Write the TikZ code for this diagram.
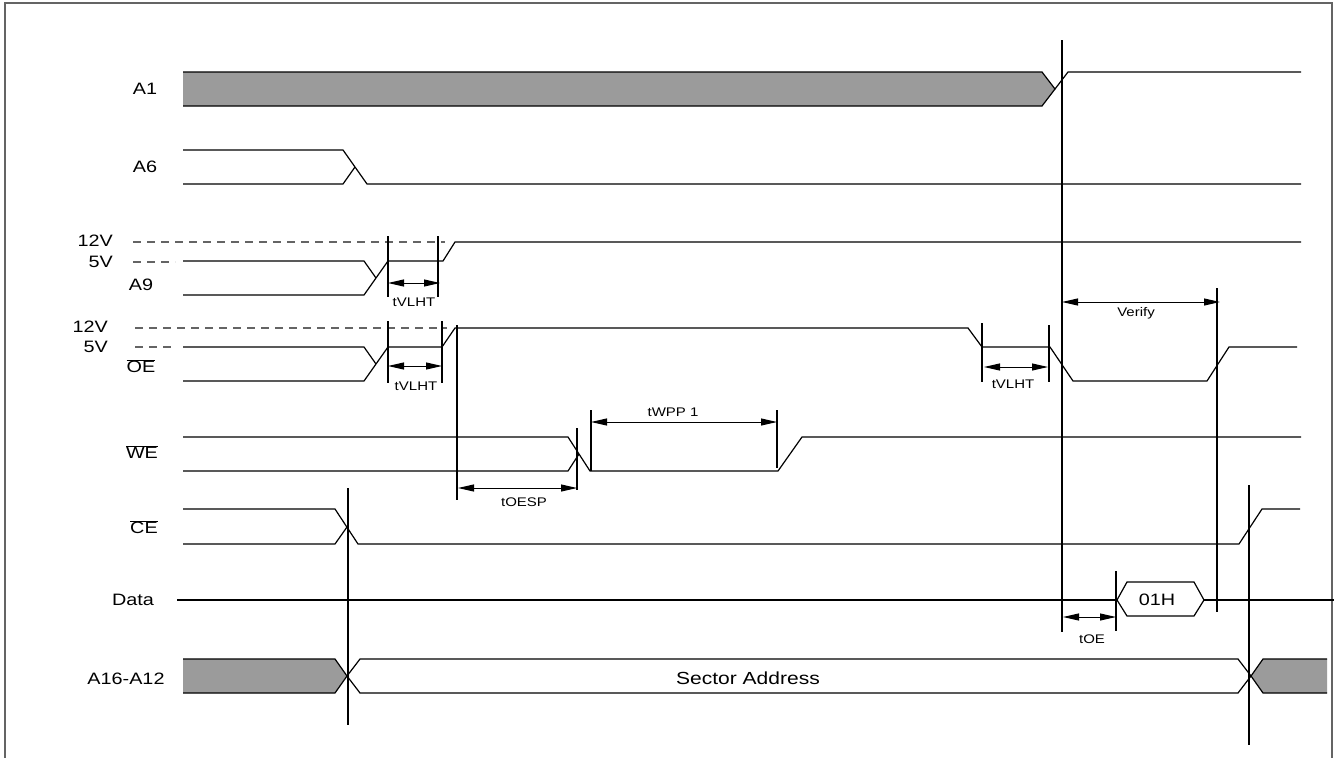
\documentclass[tikz,border=0pt]{standalone}
\usepackage{fontspec}
\setmainfont{Liberation Sans}[FakeStretch=1.2]
\usetikzlibrary{arrows.meta}
\definecolor{busgray}{RGB}{155,155,155}
\definecolor{framegray}{RGB}{100,100,100}
\tikzset{
  sig/.style={draw=black,line width=1.2pt,line join=miter},
  bus/.style={sig,fill=busgray},
  tickline/.style={draw=black,line width=1.1pt},
  lvl/.style={draw=framegray,line width=1.1pt,dash pattern=on 8pt off 6pt},
  dimarrow/.style={draw=black,line width=1pt,{Triangle[length=16pt,width=7pt]}-{Triangle[length=16pt,width=7pt]}},
  lab/.style={font=\fontsize{16.5}{18}\selectfont,inner sep=0pt},
  smalllab/.style={font=\fontsize{12.5}{14}\selectfont,inner sep=0pt},
}
\begin{document}
\begin{tikzpicture}[x=1pt,y=-1pt]
\useasboundingbox (0,0) rectangle (1334,758);
% frame
\draw[framegray,line width=1.8pt] (5,758) -- (5,3) -- (1332,3) -- (1332,758);

% labels
\node[lab] (lA1) at (145,89) {A1};
\node[lab] (lA6) at (145,167) {A6};
\node[lab,anchor=east] (l12a) at (113,241) {12V};
\node[lab,anchor=east] (l5a) at (113,262) {5V};
\node[lab] (lA9) at (141,285) {A9};
\node[lab,anchor=east] (l12b) at (108,327) {12V};
\node[lab,anchor=east] (l5b) at (108,347) {5V};
\node[lab] (lOE) at (141,366) {$\overline{\hbox{OE}}$};
\node[lab] (lWE) at (142,452) {$\overline{\hbox{WE}}$};
\node[lab] (lCE) at (144,527) {$\overline{\hbox{CE}}$};
\node[lab] (lData) at (133,600) {Data};
\node[lab] (lAddr) at (126,679) {A16-A12};

% A1
\path[fill=busgray] (183,72) -- (1042,72) -- (1055,89) -- (1042,106) -- (183,106) -- cycle;
\draw[sig] (183,72) -- (1042,72) -- (1055,89) -- (1042,106) -- (183,106);
\draw[sig] (1055,89) -- (1068,72) -- (1301,72);

% A6
\draw[sig] (183,150) -- (343,150) -- (367,184) -- (1301,184);
\draw[sig] (183,184) -- (343,184) -- (355,167);

% A9
\draw[lvl] (133,242) -- (445,242);
\draw[lvl] (133,262) -- (175,262);
\draw[sig] (183,261) -- (364,261) -- (376,278);
\draw[sig] (183,295) -- (364,295) -- (388,261) -- (443,261) -- (455,242) -- (1301,242);
\coordinate (m1t) at (388,236); \coordinate (m1b) at (388,297);
\coordinate (m2t) at (438,236); \coordinate (m2b) at (438,297);
\draw[tickline] (m1t) -- (m1b);
\draw[tickline] (m2t) -- (m2b);
\coordinate (a1l) at (388,283); \coordinate (a1r) at (440,283);
\draw[dimarrow] (a1l) -- (a1r);
\node[smalllab] (t1) at (414,302) {tVLHT};

% OE
\draw[lvl] (135,328) -- (447,328);
\draw[lvl] (135,347) -- (175,347);
\draw[sig] (183,347) -- (364,347) -- (376,364);
\draw[sig] (183,381) -- (364,381) -- (388,347) -- (442,347) -- (455,328) -- (968,328) -- (982,347) -- (1050,347) -- (1073,381) -- (1207,381) -- (1229,347) -- (1297,347);
\coordinate (m3t) at (388,321); \coordinate (m3b) at (388,383);
\coordinate (m4t) at (442,321); \coordinate (m4b) at (442,383);
\draw[tickline] (m3t) -- (m3b);
\draw[tickline] (m4t) -- (m4b);
\coordinate (a2l) at (388,366); \coordinate (a2r) at (442,366);
\draw[dimarrow] (a2l) -- (a2r);
\node[smalllab] (t2) at (416,386) {tVLHT};
\coordinate (m5t) at (982,323); \coordinate (m5b) at (982,382);
\coordinate (m6t) at (1049,325); \coordinate (m6b) at (1049,382);
\draw[tickline] (m5t) -- (m5b);
\draw[tickline] (m6t) -- (m6b);
\coordinate (a3l) at (984,367); \coordinate (a3r) at (1048,367);
\draw[dimarrow] (a3l) -- (a3r);
\node[smalllab] (t3) at (1013,384) {tVLHT};

% long verticals
\coordinate (v1t) at (457,325); \coordinate (v1b) at (457,500);
\draw[tickline] (v1t) -- (v1b);
\coordinate (v2t) at (1062,40); \coordinate (v2b) at (1062,632);
\draw[tickline] (v2t) -- (v2b);
\coordinate (v3t) at (1217,288); \coordinate (v3b) at (1217,612);
\draw[tickline] (v3t) -- (v3b);
\coordinate (v4t) at (348,488); \coordinate (v4b) at (348,725);
\draw[tickline] (v4t) -- (v4b);
\coordinate (v5t) at (1249,485); \coordinate (v5b) at (1249,745);
\draw[tickline] (v5t) -- (v5b);

% Verify
\coordinate (a4l) at (1062,302); \coordinate (a4r) at (1220,302);
\draw[dimarrow] (a4l) -- (a4r);
\node[smalllab] (t4) at (1136,313) {Verify};

% WE
\draw[sig] (183,437) -- (568,437) -- (590,471) -- (778,471) -- (802,437) -- (1301,437);
\draw[sig] (183,471) -- (568,471) -- (579,454);
\coordinate (m7t) at (577,428); \coordinate (m7b) at (577,490);
\coordinate (m8t) at (591,410); \coordinate (m8b) at (591,471);
\coordinate (m9t) at (777,410); \coordinate (m9b) at (777,468);
\draw[tickline] (m7t) -- (m7b);
\draw[tickline] (m8t) -- (m8b);
\draw[tickline] (m9t) -- (m9b);
\coordinate (a5l) at (591,422); \coordinate (a5r) at (777,422);
\draw[dimarrow] (a5l) -- (a5r);
\node[smalllab] (t5) at (673,412) {tWPP 1};
\coordinate (a6l) at (458,488); \coordinate (a6r) at (577,488);
\draw[dimarrow] (a6l) -- (a6r);
\node[smalllab] (t6) at (524,502) {tOESP};

% CE
\draw[sig] (183,509) -- (335,509) -- (358,544) -- (1239,544) -- (1262,509) -- (1300,509);
\draw[sig] (183,544) -- (335,544) -- (347,527);

% Data
\draw[sig] (177,600) -- (1117,600);
\draw[sig] (1117,600) -- (1127,582) -- (1194,582) -- (1204,600) -- (1194,616) -- (1127,616) -- cycle;
\draw[sig] (1204,600) -- (1334,600);
\node[lab] (d01) at (1157,600) {01H};
\coordinate (m10t) at (1116,571); \coordinate (m10b) at (1116,631);
\draw[tickline] (m10t) -- (m10b);
\coordinate (a7l) at (1063,617); \coordinate (a7r) at (1116,617);
\draw[dimarrow] (a7l) -- (a7r);
\node[smalllab] (t7) at (1092,639) {tOE};

% A16-A12
\path[fill=busgray] (183,659) -- (335,659) -- (347,676) -- (335,693) -- (183,693) -- cycle;
\draw[sig] (183,659) -- (335,659) -- (347,676) -- (335,693) -- (183,693);
\draw[sig] (347,676) -- (360,659) -- (1238,659) -- (1251,676) -- (1238,693) -- (360,693) -- cycle;
\path[fill=busgray] (1251,676) -- (1263,659) -- (1327,659) -- (1327,693) -- (1263,693) -- cycle;
\draw[sig] (1327,659) -- (1263,659) -- (1251,676) -- (1263,693) -- (1327,693);
\node[lab,font=\fontsize{17.5}{19}\selectfont] (sect) at (748,678) {Sector Address};
\end{tikzpicture}
\end{document}
